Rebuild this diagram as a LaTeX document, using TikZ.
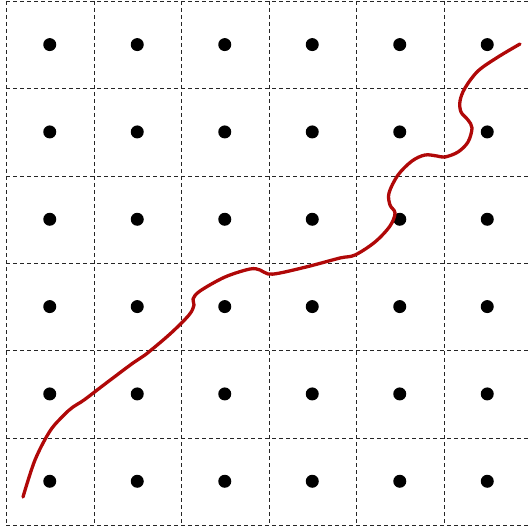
\documentclass[tikz,border=0pt]{standalone}
\begin{document}
\begin{tikzpicture}[x=1pt,y=-1pt,
  gridline/.style={draw=black!85,line width=1pt,dash pattern=on 4pt off 3pt},
  dot/.style={circle,fill=black,inner sep=0pt,minimum size=13pt},
  curve/.style={draw={rgb,255:red,176;green,8;blue,8},line width=3.3pt,line cap=round,line join=round}]
\useasboundingbox (0,0) rectangle (529,529);
\clip (0,0) rectangle (529,529);
\foreach \k in {0,...,5} {
  \draw[gridline] ({6.5+87.5*\k},1) -- ({6.5+87.5*\k},525);
}
\foreach \k in {0,...,6} {
  \draw[gridline] (6,{1.5+87.33*\k}) -- (535,{1.5+87.33*\k});
}
\foreach \i in {0,...,5} {
  \foreach \j in {0,...,5} {
    \node[dot] (d-\i-\j) at ({49.75+87.5*\i},{44.6+87.33*\j}) {};
  }
}
\draw[curve] plot[smooth,tension=0.55] coordinates {
 (23,497) (35,460) (50,431) (64,415) (73,407) (84,400) (105,384) (133,363) (145,355)
 (170,334) (189,315) (194,305) (193,299) (200,291) (225,277) (250,269)
 (260,270) (268,274) (280,273) (310,266) (340,258) (355,255) (375,242)
 (390,226) (395,213) (390,205) (389,193) (398,175) (412,161) (425,155)
 (437,156) (445,157) (458,152) (468,142) (472,128) (468,120) (461,112)
 (460,101) (465,88) (478,71) (498,57) (520,44)};
\end{tikzpicture}
\end{document}
